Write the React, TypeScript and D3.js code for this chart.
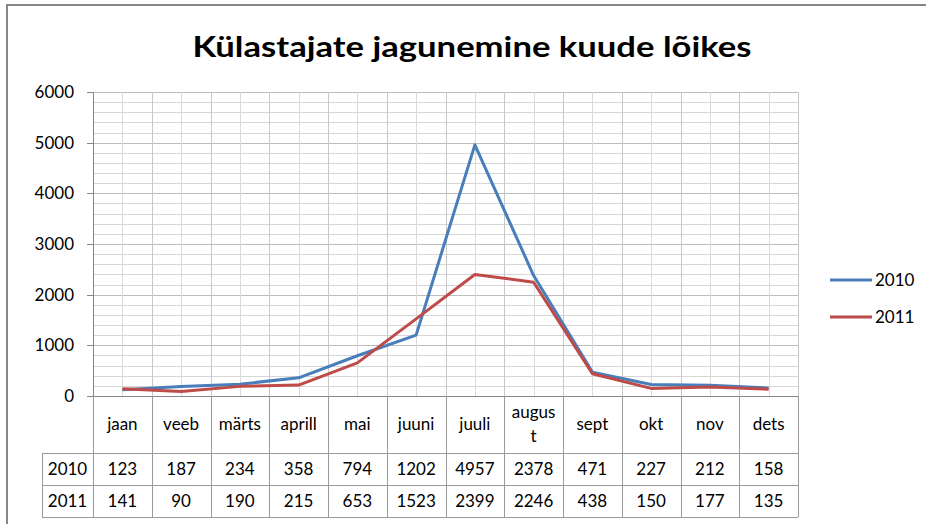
import React from 'react';
import * as d3 from 'd3';

const title = 'Külastajate jagunemine kuude lõikes';
const months = ['jaan', 'veeb', 'märts', 'aprill', 'mai', 'juuni', 'juuli', 'august', 'sept', 'okt', 'nov', 'dets'];
const monthLines = [['jaan'], ['veeb'], ['märts'], ['aprill'], ['mai'], ['juuni'], ['juuli'], ['augus', 't'], ['sept'], ['okt'], ['nov'], ['dets']];
const seriesNames = ['2010', '2011'];
const values2010 = [123, 187, 234, 358, 794, 1202, 4957, 2378, 471, 227, 212, 158];
const values2011 = [141, 90, 190, 215, 653, 1523, 2399, 2246, 438, 150, 177, 135];
const yTicks = [0, 1000, 2000, 3000, 4000, 5000, 6000];

const colors = ['#4a7ebb', '#be4b48'];
const font = 'Lato, "Open Sans", sans-serif';

const W = 926;
const H = 524;
const left = 93;
const right = 798;
const top = 92;
const bottom = 396;

export default function App() {
  const x = d3.scaleBand<string>().domain(months).range([left, right]).padding(0);
  const y = d3.scaleLinear().domain([0, 6000]).range([bottom, top]);
  const cx = (m: string) => (x(m) ?? 0) + x.bandwidth() / 2;
  const series = [values2010, values2011];

  const line = d3
    .line<number>()
    .x((_, i) => cx(months[i]))
    .y((d) => y(d));

  const minorY = d3.range(0, 6001, 200);
  const bounds = [...months.map((m) => x(m) ?? 0), right];

  const headerBottom = 453;
  const row1Bottom = 485;
  const row2Bottom = 517;
  const labelLeft = 42;
  const grid = '#c8c8c8';
  const border = '#9a9a9a';

  return (
    <svg width={W} height={H} style={{ position: 'absolute', left: 0, top: 0, background: '#fff' }} fontFamily={font}>
      <rect x={7} y={5} width={960} height={560} fill="#fff" stroke="#868686" strokeWidth={2} />
      <text x={472} y={57} textAnchor="middle" fontSize={29} fontWeight="bold" textLength={559} lengthAdjust="spacingAndGlyphs">
        {title}
      </text>

      {/* grid */}
      {minorY.map((v) => (
        <line key={'h' + v} x1={left} x2={right} y1={Math.round(y(v)) + 0.5} y2={Math.round(y(v)) + 0.5} stroke={v % 1000 === 0 ? '#bdbdbd' : '#d6d6d6'} />
      ))}
      {months.map((m) => (
        <line key={'vc' + m} x1={Math.round(cx(m)) + 0.5} x2={Math.round(cx(m)) + 0.5} y1={top} y2={bottom} stroke="#dadada" />
      ))}
      {bounds.map((b, i) => (
        <line key={'vb' + i} x1={Math.round(b) + 0.5} x2={Math.round(b) + 0.5} y1={top} y2={bottom} stroke={grid} />
      ))}

      {/* y axis */}
      <line x1={left + 0.5} x2={left + 0.5} y1={top} y2={bottom} stroke="#868686" />
      {yTicks.map((t) => (
        <g key={'t' + t}>
          <line x1={left - 6} x2={left} y1={Math.round(y(t)) + 0.5} y2={Math.round(y(t)) + 0.5} stroke="#868686" />
          <text x={74} y={y(t)} dy="0.35em" textAnchor="end" fontSize={17}>
            {t}
          </text>
        </g>
      ))}

      {/* lines */}
      {series.map((s, i) => (
        <path key={'s' + i} d={line(s) ?? ''} fill="none" stroke={colors[i]} strokeWidth={3} strokeLinejoin="round" />
      ))}

      {/* data table */}
      <line x1={left - 6} x2={right} y1={bottom + 0.5} y2={bottom + 0.5} stroke="#868686" />
      {bounds.map((b, i) => (
        <line key={'tb' + i} x1={Math.round(b) + 0.5} x2={Math.round(b) + 0.5} y1={bottom} y2={row2Bottom} stroke={border} />
      ))}
      <line x1={labelLeft + 0.5} x2={labelLeft + 0.5} y1={headerBottom} y2={row2Bottom} stroke={border} />
      {[headerBottom, row1Bottom, row2Bottom].map((r) => (
        <line key={'r' + r} x1={labelLeft} x2={right} y1={r + 0.5} y2={r + 0.5} stroke={border} />
      ))}
      {months.map((m, i) => {
        const lines = monthLines[i];
        const mid = (bottom + headerBottom) / 2;
        return (
          <text key={'m' + m} x={cx(m)} textAnchor="middle" fontSize={17}>
            {lines.map((l, j) => (
              <tspan key={j} x={cx(m)} y={mid + (j - (lines.length - 1) / 2) * 24} dy="0.35em">
                {l}
              </tspan>
            ))}
          </text>
        );
      })}
      {series.map((s, i) => {
        const yy = i === 0 ? (headerBottom + row1Bottom) / 2 : (row1Bottom + row2Bottom) / 2;
        return (
          <g key={'row' + i}>
            <text x={(labelLeft + left) / 2} y={yy} dy="0.35em" textAnchor="middle" fontSize={17}>
              {seriesNames[i]}
            </text>
            {s.map((v, j) => (
              <text key={j} x={cx(months[j])} y={yy} dy="0.35em" textAnchor="middle" fontSize={17}>
                {v}
              </text>
            ))}
          </g>
        );
      })}

      {/* legend */}
      {seriesNames.map((n, i) => {
        const ly = 280 + i * 37;
        return (
          <g key={'l' + n}>
            <line x1={830} x2={872} y1={ly} y2={ly} stroke={colors[i]} strokeWidth={3} />
            <text x={875} y={ly} dy="0.35em" fontSize={17}>
              {n}
            </text>
          </g>
        );
      })}
    </svg>
  );
}
